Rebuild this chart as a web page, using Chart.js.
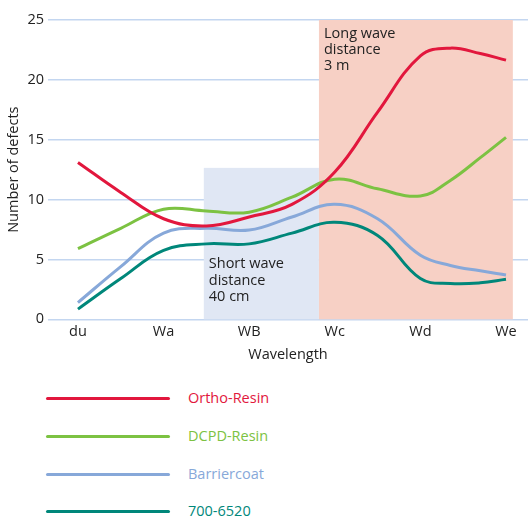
<!DOCTYPE html>
<html lang="en">
<head>
<meta charset="UTF-8">
<title>Number of defects by wavelength</title>
<script src="https://cdn.jsdelivr.net/npm/chart.js"></script>
<style>
  body { margin: 0; background: #fff; font-family: 'Open Sans', sans-serif; }
  #wrap { position: relative; width: 528px; height: 518px; }
  #chartBox { position: absolute; left: 0; top: 0; width: 528px; height: 372px; }
  .row { position: absolute; left: 0; height: 20px; width: 528px; }
  .row .ln { position: absolute; left: 46px; width: 124px; height: 3px; top: 8.5px; border-radius: 2px; }
  .row .tx { position: absolute; left: 188px; top: 0; line-height: 20px; font-size: 14.5px; }
</style>
</head>
<body>
<div id="wrap">
  <div id="chartBox"><canvas id="chart"></canvas></div>
  <div id="legend"></div>
</div>
<script>
// category labels on the x axis (positions 0..5)
const xLabels = ['du', 'Wa', 'WB', 'Wc', 'Wd', 'We'];
// sample positions along the x axis (category index)
const xPos = [0, 0.5, 1, 1.5, 2, 2.5, 3, 3.5, 4, 4.35, 4.7, 5];

const orthoResin  = [13.1, 10.6, 8.4, 7.8, 8.55, 9.6, 12.3, 17.3, 22.0, 22.65, 22.2, 21.65];
const dcpdResin   = [5.9, 7.6, 9.2, 9.05, 8.95, 10.2, 11.7, 10.9, 10.3, 11.6, 13.5, 15.2];
const barriercoat = [1.4, 4.4, 7.2, 7.6, 7.45, 8.55, 9.6, 8.4, 5.35, 4.5, 4.05, 3.7];
const s7006520    = [0.85, 3.4, 5.75, 6.3, 6.3, 7.2, 8.1, 7.0, 3.4, 3.0, 3.05, 3.35];

const seriesNames  = ['Ortho-Resin', 'DCPD-Resin', 'Barriercoat', '700-6520'];
const seriesColors = ['#e2173d', '#7cc242', '#87a8d9', '#00877a'];
const seriesData   = [orthoResin, dcpdResin, barriercoat, s7006520];

// shaded wave bands: [xFrom, xTo, yFrom, yTo] in data units
const bands = [
  [1.47, 2.815, 0, 12.65, '#e0e7f4'],
  [2.815, 5.08, 0, 25, '#f7d0c5']
];
const bandNotes = [
  { x: 1.47, y: 4.6, lines: ['Short wave', 'distance', '40 cm'] },
  { x: 2.815, y: 23.85, lines: ['Long wave', 'distance', '3 m'] }
];

const FONT = "'Open Sans', sans-serif";
const TEXT = '#222222';

const bandPlugin = {
  id: 'bands',
  beforeDatasetsDraw(chart) {
    const { ctx, scales: { x, y } } = chart;
    ctx.save();
    bands.forEach(b => {
      const x0 = x.getPixelForValue(b[0]), x1 = x.getPixelForValue(b[1]);
      const y0 = y.getPixelForValue(b[2]), y1 = y.getPixelForValue(b[3]);
      ctx.fillStyle = b[4];
      ctx.fillRect(x0, y1, x1 - x0, y0 - y1);
    });
    ctx.fillStyle = TEXT;
    ctx.font = '14.5px ' + FONT;
    ctx.textBaseline = 'middle';
    bandNotes.forEach(n => {
      const px = x.getPixelForValue(n.x) + 5;
      const py = y.getPixelForValue(n.y);
      n.lines.forEach((t, i) => ctx.fillText(t, px, py + i * 16.3));
    });
    ctx.restore();
  }
};

new Chart(document.getElementById('chart'), {
  type: 'line',
  data: {
    datasets: seriesNames.map((name, i) => ({
      label: name,
      data: xPos.map((xv, j) => ({ x: xv, y: seriesData[i][j] })),
      borderColor: seriesColors[i],
      backgroundColor: seriesColors[i],
      borderWidth: 3,
      pointRadius: 0,
      tension: 0.4,
      fill: false
    }))
  },
  options: {
    responsive: true,
    maintainAspectRatio: false,
    animation: false,
    layout: { padding: { top: 20, right: 0, left: 0, bottom: 0 } },
    plugins: { legend: { display: false }, tooltip: { enabled: false } },
    scales: {
      x: {
        type: 'linear',
        min: -0.35,
        max: 5.257,
        afterBuildTicks: s => { s.ticks = xLabels.map((_, i) => ({ value: i })); },
        afterFit: s => { s.height = 52.7; },
        grid: { display: false, drawTicks: false },
        border: { display: false },
        ticks: {
          padding: 4,
          color: TEXT,
          font: { family: FONT, size: 14.5 },
          callback: v => xLabels[v]
        },
        title: {
          display: true,
          text: 'Wavelength',
          color: TEXT,
          font: { family: FONT, size: 14.5 },
          padding: { top: 0, bottom: 8 }
        }
      },
      y: {
        min: 0,
        max: 25,
        afterFit: s => { s.width = 48; },
        grid: { color: '#c3d6f0', lineWidth: 1.5, drawTicks: false },
        border: { display: false },
        ticks: {
          stepSize: 5,
          padding: 4,
          color: TEXT,
          font: { family: FONT, size: 14.5 }
        },
        title: {
          display: true,
          text: 'Number of defects',
          color: TEXT,
          font: { family: FONT, size: 14.5 },
          padding: { top: 5, bottom: 0 }
        }
      }
    }
  },
  plugins: [bandPlugin]
});

// legend below the chart
const legendRowsY = [398, 436, 474, 511];
const legend = document.getElementById('legend');
seriesNames.forEach((name, i) => {
  const row = document.createElement('div');
  row.className = 'row';
  row.style.top = (legendRowsY[i] - 10) + 'px';
  row.innerHTML = '<div class="ln" style="background:' + seriesColors[i] + '"></div>' +
    '<div class="tx" style="color:' + seriesColors[i] + '">' + name + '</div>';
  legend.appendChild(row);
});
</script>
</body>
</html>
